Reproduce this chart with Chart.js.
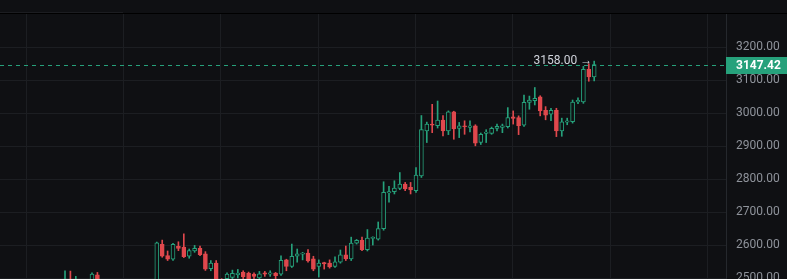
<!DOCTYPE html>
<html>
<head>
<meta charset="utf-8">
<script src="https://cdn.jsdelivr.net/npm/chart.js@4.4.0/dist/chart.umd.min.js"></script>
<style>
  html, body { margin:0; padding:0; background:#0f1013; overflow:hidden; }
  #top { height:13px; border-bottom:1px solid #000; background:#0f1013; position:relative; }
  #top .tab { position:absolute; left:0; bottom:0; width:123px; height:1px; background:#1c1d21; }
  #wrap { position:relative; width:787px; height:265px; }
</style>
</head>
<body>
<div id="top"><div class="tab"></div></div>
<div id="wrap"><canvas id="c"></canvas></div>
<script>
// candle data, one entry per bar (oldest first)
const opens = [
  2480,2495,2478,2490,2478,2488,2510,2488,2470,2476,
  2465,2472,2484,2474,2460,2470,2481,2476,2602,2568,
  2557,2596,2594,2566,2582,2590,2573,2528,2545,2490,
  2498,2502,2510,2517,2515,2512,2500,2516,2512,2515,
  2512,2555,2535,2566,2572,2576,2558,2535,2547,2545,
  2535,2548,2570,2558,2606,2614,2586,2620,2618,2650,
  2758,2762,2772,2785,2775,2765,2810,2946,2967,2962,
  2979,2946,3004,2954,2962,2957,2962,2911,2939,2939,
  2954,2957,2959,2989,2987,2964,3033,3038,3050,3009,
  2997,3009,2946,2973,2974,3034,3034,3133,3110
];
const highs = [
  2522,2521,2505,2496,2494,2516,2517,2496,2482,2490,
  2478,2488,2494,2480,2476,2486,2492,2609,2615,2582,
  2605,2610,2634,2588,2599,2597,2580,2553,2553,2498,
  2516,2524,2526,2522,2518,2516,2520,2520,2522,2517,
  2567,2557,2603,2588,2578,2586,2566,2555,2548,2555,
  2564,2585,2597,2624,2617,2624,2647,2625,2670,2792,
  2778,2795,2820,2790,2790,2835,2993,2973,3027,3037,
  2993,3007,3006,2972,2977,2977,2965,2940,2950,2958,
  2967,2967,3017,3007,2992,3055,3052,3078,3053,3020,
  3015,3015,2985,2985,3040,3047,3142,3150,3158
];
const lows = [
  2470,2465,2470,2470,2465,2482,2484,2462,2455,2460,
  2448,2466,2470,2452,2455,2462,2468,2470,2563,2553,
  2553,2583,2562,2560,2578,2568,2523,2522,2480,2470,
  2490,2495,2500,2495,2490,2498,2495,2505,2505,2496,
  2508,2522,2532,2548,2555,2548,2522,2503,2527,2530,
  2532,2545,2553,2553,2603,2583,2582,2600,2615,2645,
  2730,2755,2768,2765,2755,2760,2805,2911,2941,2955,
  2931,2935,2921,2926,2936,2943,2901,2905,2911,2936,
  2946,2941,2955,2967,2935,2960,3012,3025,2992,2980,
  2977,2929,2930,2965,2970,3029,3030,3097,3098
];
const closes = [
  2497,2475,2490,2478,2488,2512,2488,2470,2476,2465,
  2472,2484,2474,2460,2470,2481,2476,2607,2566,2557,
  2602,2590,2565,2583,2590,2571,2527,2545,2490,2485,
  2512,2514,2515,2503,2498,2505,2513,2512,2516,2507,
  2554,2535,2566,2573,2576,2552,2527,2545,2543,2534,
  2549,2570,2558,2606,2614,2586,2621,2624,2650,2760,
  2762,2773,2785,2770,2767,2812,2950,2967,2964,2979,
  2946,3004,2952,2962,2959,2962,2909,2936,2943,2954,
  2960,2962,2987,2984,2962,3033,3040,3045,3007,2994,
  3009,2946,2974,2977,3034,3039,3133,3110,3147.42
];
const priceTicks = [2500, 2600, 2700, 2800, 2900, 3000, 3100, 3200];
// day separators, in bar units
const timeGrid = [-7.2, 10.83, 28.86, 46.89, 64.92, 82.95, 100.98, 119.01];
const lastPrice = closes[closes.length - 1];

const BG = "#0f1013";
const UP = "#26a17b";
const DOWN = "#e0484d";
const GRID = "#1c1e22";

Chart.defaults.font.family = "Roboto";

const idx = opens.map((_, i) => i);
const isUp = idx.map(i => closes[i] >= opens[i]);

const overlay = {
  id:"overlay",
  afterDatasetsDraw(chart) {
    const { ctx, chartArea:a, scales:{ x, y } } = chart;
    const yp = Math.round(y.getPixelForValue(lastPrice)) + 0.5;
    ctx.save();
    ctx.strokeStyle = UP;
    ctx.lineWidth = 1;
    ctx.setLineDash([4, 4]);
    ctx.beginPath();
    ctx.moveTo(a.left, yp);
    ctx.lineTo(a.right, yp);
    ctx.stroke();
    ctx.setLineDash([]);

    // highest high marker
    const hi = Math.max(...highs);
    const hiIdx = highs.indexOf(hi);
    ctx.font = "12px Roboto";
    ctx.fillStyle = "#d1d4dc";
    ctx.textAlign = "right";
    ctx.textBaseline = "middle";
    ctx.fillText(hi.toFixed(2) + " \u2192", x.getPixelForValue(hiIdx) - 2, y.getPixelForValue(hi));
    ctx.restore();
  },
  afterDraw(chart) {
    const { ctx, chartArea:a, scales:{ y } } = chart;
    const yp = Math.round(y.getPixelForValue(lastPrice));
    ctx.save();
    ctx.fillStyle = UP;
    ctx.fillRect(a.right, yp - 8, chart.width - a.right, 17);
    ctx.fillStyle = "#ffffff";
    ctx.font = "bold 12px Roboto";
    ctx.textAlign = "left";
    ctx.textBaseline = "middle";
    ctx.fillText(lastPrice.toFixed(2), a.right + 10, yp + 0.5);
    ctx.restore();
  }
};

new Chart(document.getElementById("c"), {
  type:"bar",
  data:{
    datasets:[
      {
        label:"body",
        data:idx.map(i => ({ x:i, y:[opens[i], closes[i]] })),
        backgroundColor:isUp.map(u => u ? BG : DOWN),
        borderColor:isUp.map(u => u ? UP : DOWN),
        borderWidth:1,
        borderSkipped:false,
        barThickness:4,
        order:0
      },
      {
        label:"wick",
        data:idx.map(i => ({ x:i, y:[lows[i], highs[i]] })),
        backgroundColor:isUp.map(u => u ? UP : DOWN),
        borderWidth:0,
        barThickness:1,
        order:1
      }
    ]
  },
  options:{
    responsive:true,
    maintainAspectRatio:false,
    animation:false,
    grouped:false,
    layout:{ padding:0 },
    plugins:{ legend:{ display:false }, tooltip:{ enabled:false } },
    scales:{
      x:{
        type:"linear",
        min:-12.04,
        max:122.41,
        offset:false,
        afterBuildTicks:s => { s.ticks = timeGrid.map(v => ({ value:v })); },
        grid:{ color:GRID, drawTicks:false, offset:false },
        border:{ display:false },
        ticks:{ display:false }
      },
      y:{
        position:"right",
        min:2497,
        max:3301,
        afterBuildTicks:s => { s.ticks = priceTicks.map(v => ({ value:v })); },
        afterFit:s => { s.width = 61; s.paddingTop = 0; s.paddingBottom = 0; },
        grid:{ color:GRID, drawTicks:false },
        border:{ color:"#25282d" },
        ticks:{
          color:"#8f939b",
          padding:10,
          font:{ size:12 },
          callback:v => Number(v).toFixed(2)
        }
      }
    }
  },
  plugins:[overlay]
});
</script>
</body>
</html>
